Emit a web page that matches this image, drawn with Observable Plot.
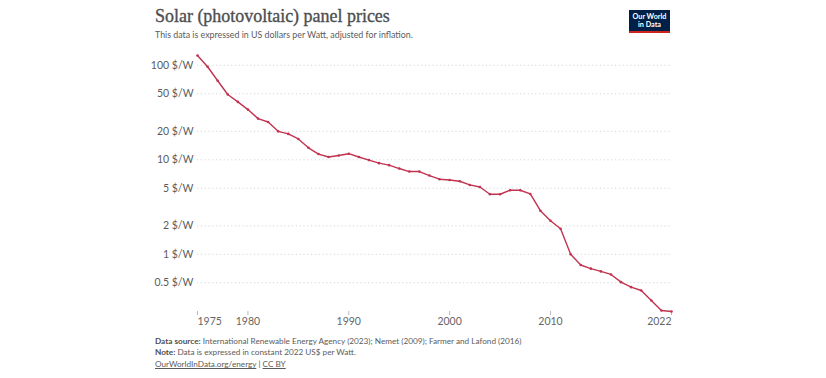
<!DOCTYPE html>
<html>
<head>
<meta charset="utf-8">
<script src="https://cdn.jsdelivr.net/npm/d3@7"></script>
<script src="https://cdn.jsdelivr.net/npm/@observablehq/plot@0.6"></script>
<style>
  html, body { margin: 0; padding: 0; background: #fff; }
  #wrap { position: relative; width: 826px; height: 378px; overflow: hidden; font-family: Lato, "Noto Sans", sans-serif; }
  .abs { position: absolute; white-space: nowrap; line-height: 1; }
  #title { left: 155px; top: 8px; font-family: "Liberation Serif", "DejaVu Serif", serif; color: #4e4e4e; font-size: 20px; -webkit-text-stroke: 0.35px #4e4e4e; }
  #subtitle { left: 155px; top: 31px; color: #5b5b5b; font-size: 10px; }
  .foot { left: 155px; color: #5b5b5b; font-size: 8.5px; }
  .foot b { font-weight: 700; color: #4e4e4e; }
  .foot a { color: #5b5b5b; text-decoration: underline; }
  #logo { position: absolute; left: 629px; top: 10px; width: 41px; height: 23px; background: #002147; color: #fff; font-weight: 700; font-size: 7.2px; line-height: 8px; text-align: center; box-sizing: border-box; padding-top: 3px; border-bottom: 2px solid #ce261e; }
  #chart { position: absolute; left: 0; top: 45px; }
</style>
</head>
<body>
<div id="wrap">
  <div id="title" class="abs">Solar (photovoltaic) panel prices</div>
  <div id="subtitle" class="abs">This data is expressed in US dollars per Watt, adjusted for inflation.</div>
  <div id="logo">Our World<br>in Data</div>
  <div id="chart"></div>
  <div id="f1" class="abs foot" style="top:337px"><b>Data source:</b> International Renewable Energy Agency (2023); Nemet (2009); Farmer and Lafond (2016)</div>
  <div id="f2" class="abs foot" style="top:348px"><b>Note:</b> Data is expressed in constant 2022 US$ per Watt.</div>
  <div id="f3" class="abs foot" style="top:360px"><a>OurWorldInData.org/energy</a> | <a>CC BY</a></div>
</div>
<script>
const years = [1975,1976,1977,1978,1979,1980,1981,1982,1983,1984,1985,1986,1987,1988,1989,1990,1991,1992,1993,1994,1995,1996,1997,1998,1999,2000,2001,2002,2003,2004,2005,2006,2007,2008,2009,2010,2011,2012,2013,2014,2015,2016,2017,2018,2019,2020,2021,2022];
const prices = [127,96.6,68.6,49.1,41.0,34.0,27.3,25.1,20.0,18.8,16.6,13.4,11.5,10.7,11.1,11.6,10.7,9.93,9.22,8.78,8.08,7.51,7.51,6.81,6.23,6.12,5.93,5.42,5.16,4.32,4.32,4.76,4.76,4.35,2.89,2.26,1.86,1.0,0.77,0.705,0.659,0.612,0.507,0.449,0.414,0.324,0.254,0.248];
const yTicks = [0.5,1,2,5,10,20,50,100];
const yTickLabels = ["0.5 $/W","1 $/W","2 $/W","5 $/W","10 $/W","20 $/W","50 $/W","100 $/W"];
const xTicks = [1980,1990,2000,2010];
const xStartTick = [1975];
const xEndTick = [2022];

const data = years.map((year, i) => ({year, price: prices[i]}));
const yLabelData = yTicks.map((v, i) => ({v, label: yTickLabels[i]}));
const color = "#c23350";

function fit(el, target) {
  const w = el.getBoundingClientRect().width;
  const fs = parseFloat(getComputedStyle(el).fontSize);
  el.style.fontSize = (fs * target / w) + "px";
  return fs * target / w;
}
fit(document.getElementById("title"), 235);
fit(document.getElementById("subtitle"), 258);
const ffs = fit(document.getElementById("f1"), 367);
document.getElementById("f2").style.fontSize = ffs + "px";
document.getElementById("f3").style.fontSize = ffs + "px";

const axisStyle = {fontSize: 10.5, fill: "#666", stroke: "#bbb", tickSize: 4, tickPadding: 2, tickFormat: d => String(d), label: null};
const plot = Plot.plot({
  width: 826,
  height: 290,
  marginLeft: 197,
  marginRight: 155,
  marginTop: 10,
  marginBottom: 24,
  style: {fontFamily: "Lato, sans-serif", background: "transparent"},
  x: {domain: [1975, 2022], label: null},
  y: {type: "log", domain: [0.248, 127], label: null, axis: null},
  marks: [
    Plot.gridY(yTicks, {stroke: "#d6d6d6", strokeOpacity: 1, strokeDasharray: "1.2,2.6"}),
    Plot.text(yLabelData, {y: "v", text: "label", frameAnchor: "left", textAnchor: "end", dx: -4, fontSize: 10.5, fill: "#5b5b5b"}),
    Plot.axisX(xTicks, {...axisStyle}),
    Plot.axisX(xStartTick, {...axisStyle, textAnchor: "start"}),
    Plot.axisX(xEndTick, {...axisStyle, textAnchor: "end"}),
    Plot.line(data, {x: "year", y: "price", stroke: color, strokeWidth: 1.4}),
    Plot.dot(data, {x: "year", y: "price", r: 1.3, fill: color})
  ]
});
document.getElementById("chart").appendChild(plot);
</script>
</body>
</html>
